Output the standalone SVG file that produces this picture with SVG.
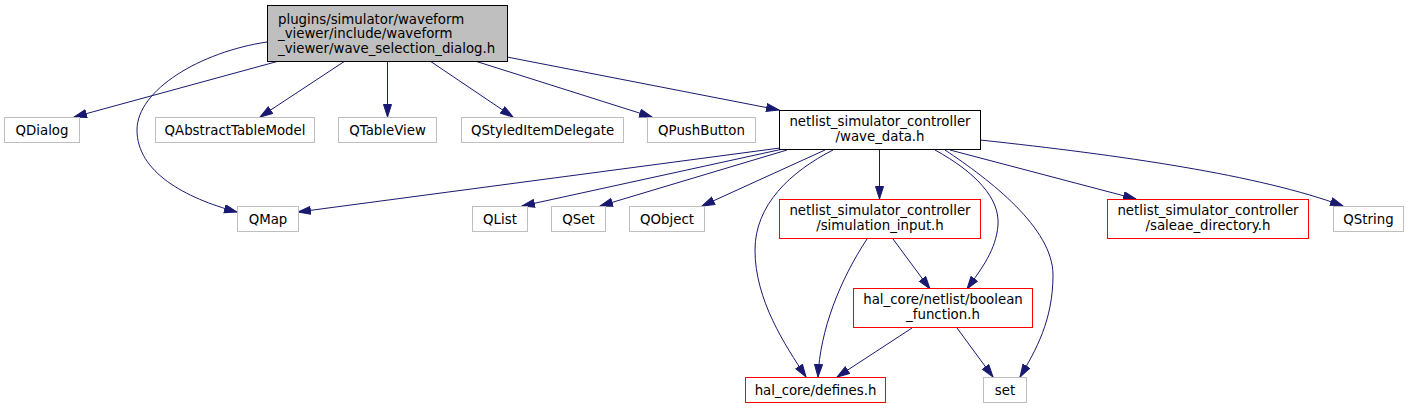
<svg xmlns="http://www.w3.org/2000/svg" width="1409" height="409" viewBox="0 0 1409 409">
<style>
text{font-family:"DejaVu Sans","Liberation Sans",sans-serif;font-size:13.33px;fill:#000;text-anchor:middle}
.g{fill:#fff;stroke:#bfbfbf;stroke-width:1}
.r{fill:#fff;stroke:#ff0000;stroke-width:1}
.b{fill:#fff;stroke:#000;stroke-width:1}
.m{fill:#bfbfbf;stroke:#000;stroke-width:1}
.e{fill:none;stroke:#191970;stroke-width:1;marker-end:url(#a)}
</style>
<defs>
<marker id="a" markerWidth="14" markerHeight="10" refX="13" refY="4.5" orient="auto" markerUnits="userSpaceOnUse">
<path d="M0.5,0.5 L13,4.5 L0.5,8.5 z" fill="#191970" stroke="#191970" stroke-width="1"/>
</marker>
</defs>
<rect width="1409" height="409" fill="#fff"/>
<g id="connectors">
<path class="e" d="M279,61 L74,117"/>
<path class="e" d="M345,61 L260,117"/>
<path class="e" d="M387.5,61 L387.5,117"/>
<path class="e" d="M430,61 L513,117"/>
<path class="e" d="M475,61 L652,117"/>
<path class="e" d="M507,57 L779,110"/>
<path class="e" d="M267,42 C200,52 137,90 137,130 C137,172 185,198 237,212"/>
<path class="e" d="M780,148 L298,212"/>
<path class="e" d="M783,149 L522,206"/>
<path class="e" d="M787,150 L600,206"/>
<path class="e" d="M825,150 L702,206"/>
<path class="e" d="M833,150 C790,172 755,205 755,250 C755,300 785,345 806,377"/>
<path class="e" d="M879.5,150 L879.5,199"/>
<path class="e" d="M935,150 C975,172 1000,198 998,225 C996,250 982,268 967,289"/>
<path class="e" d="M945,150 C990,180 1053,228 1053,275 C1053,320 1036,350 1020,377"/>
<path class="e" d="M950,150 L1136,199"/>
<path class="e" d="M980,140 C1120,155 1260,175 1343,206"/>
<path class="e" d="M867,239 C840,280 820,330 818,377"/>
<path class="e" d="M893,239 L930,289"/>
<path class="e" d="M912,328 L837,377"/>
<path class="e" d="M957,328 L993,377"/>
</g>
<g id="node_main"><rect class="m" x="267.5" y="5.5" width="240" height="56"/>
<text x="278" y="23.5" style="text-anchor:start">plugins/simulator/waveform</text>
<text x="278" y="38" style="text-anchor:start">_viewer/include/waveform</text>
<text x="278" y="52.5" style="text-anchor:start">_viewer/wave_selection_dialog.h</text></g>
<g id="node_qdialog"><rect class="g" x="4.5" y="117.5" width="75" height="25"/><text x="42" y="134.5">QDialog</text></g>
<g id="node_qabstracttablemodel"><rect class="g" x="155.5" y="117.5" width="159" height="25"/><text x="235" y="134.5">QAbstractTableModel</text></g>
<g id="node_qtableview"><rect class="g" x="338.5" y="117.5" width="98" height="25"/><text x="387.5" y="134.5">QTableView</text></g>
<g id="node_qstyleditemdelegate"><rect class="g" x="461.5" y="117.5" width="162" height="25"/><text x="542.5" y="134.5">QStyledItemDelegate</text></g>
<g id="node_qpushbutton"><rect class="g" x="647.5" y="117.5" width="108" height="25"/><text x="701.5" y="134.5">QPushButton</text></g>
<g id="node_wave_data"><rect class="b" x="779.5" y="110.5" width="201" height="39"/>
<text x="880" y="126">netlist_simulator_controller</text><text x="880" y="141">/wave_data.h</text></g>
<g id="node_qmap"><rect class="g" x="237.5" y="206.5" width="61" height="25"/><text x="268" y="223.5">QMap</text></g>
<g id="node_qlist"><rect class="g" x="472.5" y="206.5" width="55" height="25"/><text x="500" y="223.5">QList</text></g>
<g id="node_qset"><rect class="g" x="551.5" y="206.5" width="54" height="25"/><text x="578.5" y="223.5">QSet</text></g>
<g id="node_qobject"><rect class="g" x="629.5" y="206.5" width="75" height="25"/><text x="667" y="223.5">QObject</text></g>
<g id="node_simulation_input"><rect class="r" x="779.5" y="199.5" width="201" height="39"/>
<text x="880" y="215">netlist_simulator_controller</text><text x="880" y="230">/simulation_input.h</text></g>
<g id="node_saleae_directory"><rect class="r" x="1107.5" y="199.5" width="201" height="39"/>
<text x="1208" y="215">netlist_simulator_controller</text><text x="1208" y="230">/saleae_directory.h</text></g>
<g id="node_qstring"><rect class="g" x="1333.5" y="206.5" width="70" height="25"/><text x="1368.5" y="223.5">QString</text></g>
<g id="node_boolean_function"><rect class="r" x="853.5" y="288.5" width="179" height="39"/>
<text x="943" y="304">hal_core/netlist/boolean</text><text x="943" y="319">_function.h</text></g>
<g id="node_defines"><rect class="r" x="745.5" y="377.5" width="140" height="25"/><text x="815.5" y="394.5">hal_core/defines.h</text></g>
<g id="node_set"><rect class="g" x="983.5" y="377.5" width="43" height="25"/><text x="1005" y="394.5">set</text></g>
</svg>
